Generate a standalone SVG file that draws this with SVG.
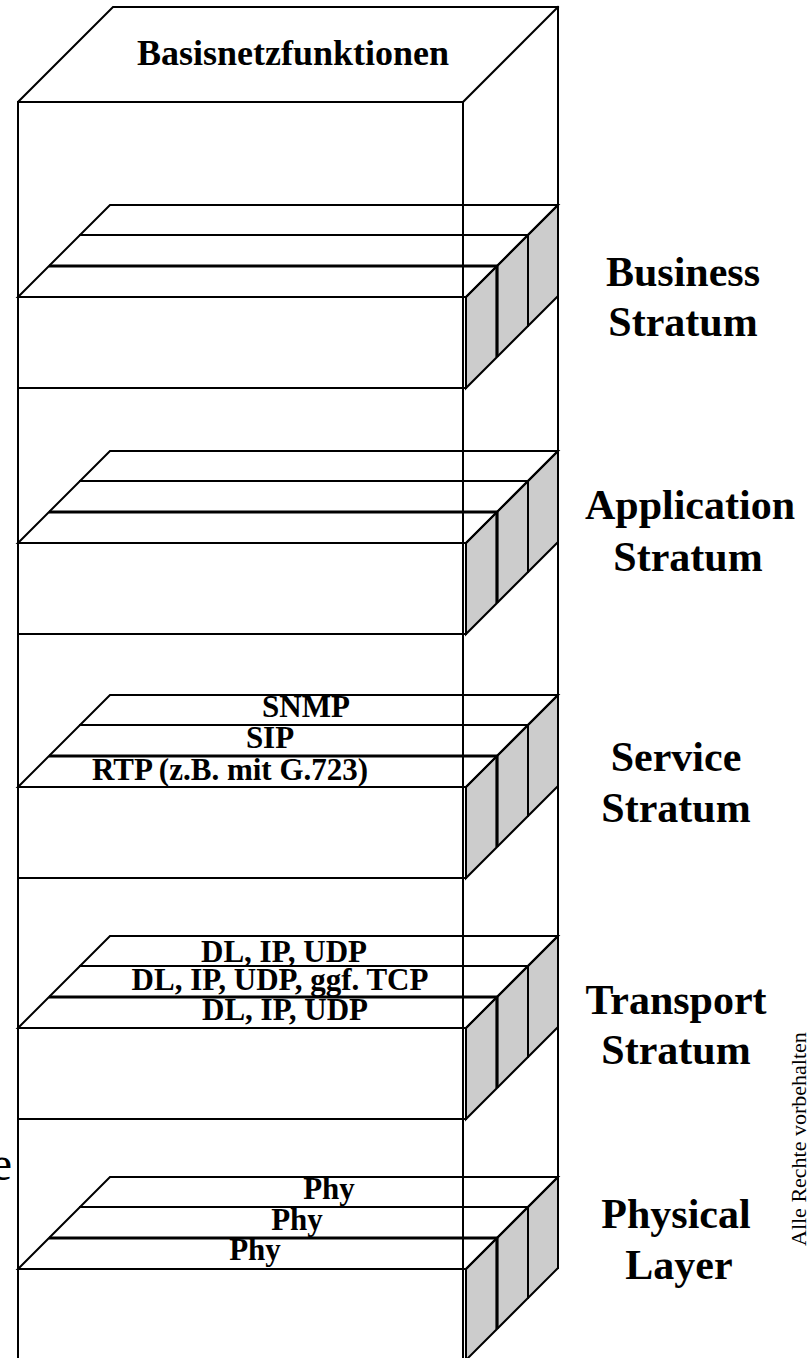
<svg xmlns="http://www.w3.org/2000/svg" width="810" height="1358" viewBox="0 0 810 1358">
<defs>
<style>
.ln{stroke:#000;stroke-width:2;fill:none;stroke-linecap:square}
.tk{stroke:#000;stroke-width:3.2;fill:none}
.side{fill:#cccccc;stroke:#000;stroke-width:2;stroke-linejoin:miter}
.t{font-family:"Liberation Serif","Times New Roman",serif;font-weight:bold;fill:#000}
.lbl{font-size:42px;text-anchor:middle}
.sl{font-size:31px;text-anchor:middle}
.reg{font-family:"Liberation Serif","Times New Roman",serif;fill:#000}
</style>
<g id="slab">
<polygon class="side" points="466,92 558,0 558,91 466,183"/>
<polygon class="ln" points="18,92 110,0 558,0 466,92"/>
<line class="ln" x1="80" y1="30" x2="528" y2="30"/>
<line class="tk" x1="49" y1="61" x2="497" y2="61"/>
<rect class="ln" x="18" y="92" width="448" height="91"/>
<line class="tk" x1="497" y1="61" x2="497" y2="152"/>
<line class="ln" x1="528" y1="30" x2="528" y2="121"/>
</g>
</defs>
<g id="basisnetz">
<polyline class="ln" points="18,1370 18,102 113,7 558,7 558,1268"/>
<line class="ln" x1="18" y1="102" x2="463" y2="102"/>
<line class="ln" x1="463" y1="102" x2="463" y2="1370"/>
<line class="ln" x1="463" y1="102" x2="558" y2="7"/>
<text class="t" x="293" y="65" font-size="36" text-anchor="middle">Basisnetzfunktionen</text>
</g>
<g id="business">
<use href="#slab" x="0" y="205"/>
<text class="t lbl" x="683" y="286">Business</text>
<text class="t lbl" x="683" y="336">Stratum</text>
</g>
<g id="application">
<use href="#slab" x="0" y="451"/>
<text class="t lbl" x="690" y="519">Application</text>
<text class="t lbl" x="688" y="571">Stratum</text>
</g>
<g id="service">
<use href="#slab" x="0" y="695"/>
<text class="t sl" x="306" y="717">SNMP</text>
<text class="t sl" x="270" y="748">SIP</text>
<text class="t sl" x="230" y="780">RTP (z.B. mit G.723)</text>
<text class="t lbl" x="676" y="771">Service</text>
<text class="t lbl" x="676" y="822">Stratum</text>
</g>
<g id="transport">
<use href="#slab" x="0" y="936"/>
<text class="t sl" x="284" y="962">DL, IP, UDP</text>
<text class="t sl" x="280" y="990">DL, IP, UDP, ggf. TCP</text>
<text class="t sl" x="285" y="1020">DL, IP, UDP</text>
<text class="t lbl" x="676" y="1014">Transport</text>
<text class="t lbl" x="676" y="1064">Stratum</text>
</g>
<g id="physical">
<use href="#slab" x="0" y="1177"/>
<text class="t sl" x="329" y="1199">Phy</text>
<text class="t sl" x="297" y="1230">Phy</text>
<text class="t sl" x="255" y="1260">Phy</text>
<text class="t lbl" x="676" y="1228">Physical</text>
<text class="t lbl" x="679" y="1279">Layer</text>
</g>
<g id="notes">
<text class="reg" x="12" y="1180" font-size="48" text-anchor="end">e</text>
<text class="reg" font-size="22" transform="translate(806,1246) rotate(-90)">Alle Rechte vorbehalten</text>
</g>
</svg>
